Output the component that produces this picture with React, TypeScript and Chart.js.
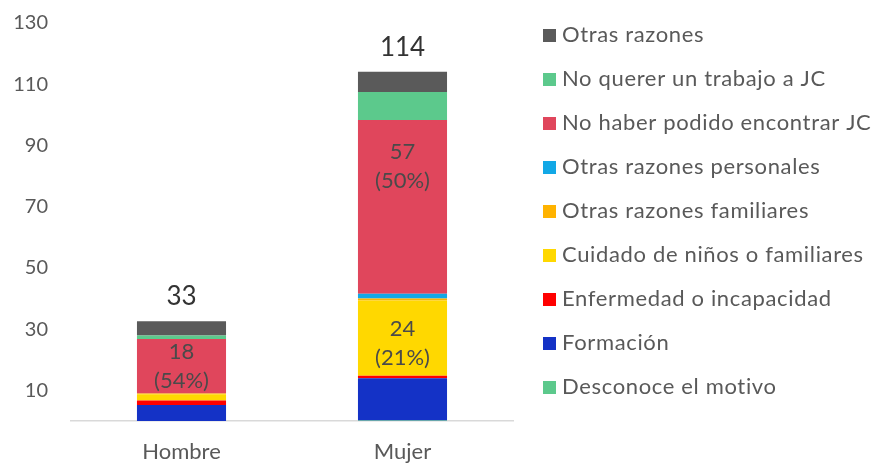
import React, { useEffect, useRef } from "react";
import { Chart, registerables } from "chart.js";

Chart.register(...registerables);

const categories = ["Hombre", "Mujer"];

// stacked from bottom to top
const seriesNames = [
  "Desconoce el motivo",
  "Formación",
  "Enfermedad o incapacidad",
  "Cuidado de niños o familiares",
  "Otras razones familiares",
  "Otras razones personales",
  "No haber podido encontrar JC",
  "No querer un trabajo a JC",
  "Otras razones",
];
const seriesColors = [
  "#5CC98C",
  "#1432C6",
  "#FF0000",
  "#FFD800",
  "#FFB300",
  "#12A8E6",
  "#E0465C",
  "#5CC98C",
  "#5A5A5A",
];
const desconoce = [0, 0.2];
const formacion = [5.2, 13.8];
const enfermedad = [1.5, 0.8];
const cuidado = [2.0, 24.6];
const otrasFamiliares = [0.3, 0.6];
const otrasPersonales = [0, 1.6];
const noEncontrar = [17.8, 56.7];
const noQuerer = [1.1, 9.2];
const otrasRazones = [4.7, 6.6];
const seriesValues = [
  desconoce,
  formacion,
  enfermedad,
  cuidado,
  otrasFamiliares,
  otrasPersonales,
  noEncontrar,
  noQuerer,
  otrasRazones,
];

const totalLabels = ["33", "114"];
// inner labels: series index, category index, text lines
const innerLabelSeries = [6, 6, 3];
const innerLabelCategory = [0, 1, 1];
const innerLabelText = [
  ["18", "(54%)"],
  ["57", "(50%)"],
  ["24", "(21%)"],
];
const yTicks = [10, 30, 50, 70, 90, 110, 130];

const FONT = "Lato, 'Open Sans', sans-serif";
const TEXT = "#595959";

export default function App() {
  const ref = useRef<HTMLCanvasElement | null>(null);

  useEffect(() => {
    const canvas = ref.current;
    if (!canvas) return;

    const labelsPlugin = {
      id: "labelsPlugin",
      afterDatasetsDraw(chart: any) {
        const ctx = chart.ctx;
        ctx.save();
        // totals above bars
        ctx.fillStyle = "#333333";
        ctx.font = `26px ${FONT}`;
        ctx.textAlign = "center";
        ctx.textBaseline = "alphabetic";
        categories.forEach((_, ci) => {
          const topMeta = chart.getDatasetMeta(seriesValues.length - 1);
          const el = topMeta.data[ci];
          ctx.fillText(totalLabels[ci], el.x, el.y - 16);
        });
        // inner labels
        const dys = [0, -41, 5];
        ctx.fillStyle = "#4A4A4A";
        ctx.font = `22px ${FONT}`;
        ctx.textBaseline = "middle";
        innerLabelSeries.forEach((si, k) => {
          const ci = innerLabelCategory[k];
          const el = chart.getDatasetMeta(si).data[ci];
          const cy = (el.y + el.base) / 2 + dys[k];
          ctx.fillText(innerLabelText[k][0], el.x, cy - 14);
          ctx.fillText(innerLabelText[k][1], el.x, cy + 15);
        });
        ctx.restore();
      },
      afterDraw(chart: any) {
        const ctx = chart.ctx;
        ctx.save();
        ctx.font = `22px ${FONT}`;
        try {
          (ctx as any).letterSpacing = "0.65px";
        } catch (e) {}
        ctx.textBaseline = "middle";
        ctx.textAlign = "left";
        const n = seriesNames.length;
        for (let k = 0; k < n; k++) {
          const si = n - 1 - k;
          const cy = 35 + k * 44;
          ctx.fillStyle = seriesColors[si];
          ctx.fillRect(543, cy - 6, 13, 13);
          ctx.fillStyle = TEXT;
          ctx.fillText(seriesNames[si], 562, cy);
        }
        (ctx as any).letterSpacing = "0px";
        ctx.restore();
      },
    };

    const chart = new Chart(canvas, {
      type: "bar",
      data: {
        labels: categories,
        datasets: seriesNames.map((name, i) => ({
          label: name,
          data: seriesValues[i],
          backgroundColor: seriesColors[i],
          borderWidth: 0,
          barPercentage: 0.403,
          categoryPercentage: 1,
        })),
      },
      options: {
        animation: false,
        responsive: false,
        maintainAspectRatio: false,
        layout: { padding: { top: 23, right: 369, left: 0, bottom: 0 } },
        plugins: {
          legend: { display: false },
          tooltip: { enabled: false },
        },
        scales: {
          x: {
            stacked: true,
            grid: { display: false, drawTicks: false },
            border: { display: true, color: "#D9D9D9", width: 1.5 },
            ticks: {
              color: TEXT,
              font: { family: FONT, size: 22 },
              padding: 18,
            },
            afterFit: (s: any) => {
              s.height = 42;
            },
          },
          y: {
            stacked: true,
            min: 0,
            max: 130,
            grid: { display: false, drawTicks: false },
            border: { display: false },
            ticks: {
              color: TEXT,
              font: { family: FONT, size: 20 },
              padding: 23,
            },
            afterBuildTicks: (s: any) => {
              s.ticks = yTicks.map((v) => ({ value: v }));
            },
            afterFit: (s: any) => {
              s.width = 71;
              s.paddingTop = 0;
              s.paddingBottom = 0;
            },
          },
        },
      },
      plugins: [labelsPlugin],
    });
    return () => chart.destroy();
  }, []);

  return (
    <div style={{ position: "fixed", left: 0, top: 0, width: 882, height: 463, background: "#fff" }}>
      <canvas ref={ref} width={882} height={463} style={{ width: 882, height: 463, display: "block" }} />
    </div>
  );
}
